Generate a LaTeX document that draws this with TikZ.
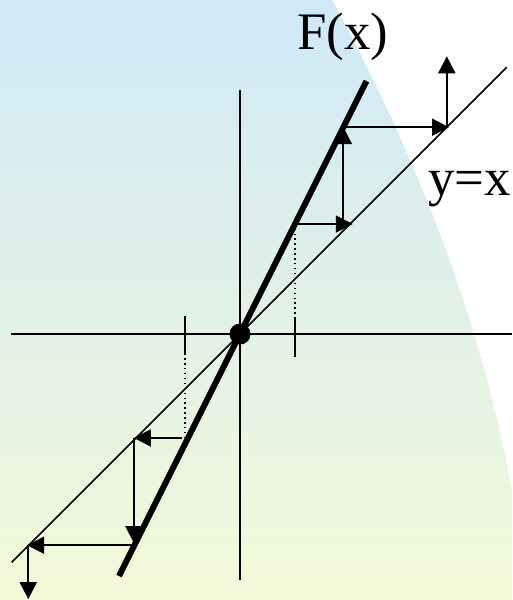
\documentclass[tikz,border=0pt]{standalone}
\usepackage{fontspec}
\setmainfont{Liberation Serif}
\usetikzlibrary{arrows.meta}
\definecolor{bgtop}{HTML}{CFE9F8}
\definecolor{bgmid}{HTML}{DFF2EA}
\definecolor{bgbot}{HTML}{F3F9D8}
\tikzset{
  axis/.style  ={line width=1.1pt, black},
  diag/.style  ={line width=0.9pt, black},
  fline/.style ={line width=3.4pt, black},
  ar/.style    ={-{Triangle[length=0.34cm,width=0.34cm]}, line width=1.1pt},
  guide/.style ={dotted, line width=0.8pt},
  tickmark/.style={line width=1.1pt},
  lbl/.style   ={font=\fontsize{30}{36}\selectfont, inner sep=0pt, anchor=base west}
}
\begin{document}
\begin{tikzpicture}[x=1.1cm,y=1.1cm]
% background
\useasboundingbox (-4.364,-4.836) rectangle (4.945,6.073);
\shade[top color=bgtop, middle color=bgmid, bottom color=bgbot]
  (-4.364,-4.836) rectangle (4.945,6.073);
\fill[white] (1.673,6.073) .. controls (3.273,3.164) and (4.418,0.073) .. (4.945,-2.836)
  -- (4.945,6.073) -- cycle;

% axes
\coordinate (xl) at (-4.16,0);
\coordinate (xr) at (4.945,0);
\coordinate (yb) at (0,-4.47);
\coordinate (yt) at (0,4.44);
\draw[axis] (xl) -- (xr);
\draw[axis] (yb) -- (yt);
\coordinate (tra) at (1,0.28);
\coordinate (trb) at (1,-0.42);
\coordinate (tla) at (-1,0.33);
\coordinate (tlb) at (-1,-0.35);
\draw[tickmark] (tra) -- (trb);
\draw[tickmark] (tla) -- (tlb);

% y=x and F(x)
\coordinate (da) at (-4.15,-4.15);
\coordinate (db) at (4.85,4.85);
\coordinate (fa) at (-2.2,-4.4);
\coordinate (fb) at (2.3,4.6);
\draw[diag] (da) -- (db);
\draw[fline] (fa) -- (fb);
\node[circle, fill, inner sep=0pt, minimum size=0.42cm] (O) at (0,0) {};
\node[lbl] (Flbl) at (1.04,5.18) {F(x)};
\node[lbl] (dlbl) at (3.42,2.51) {y=x};

% iteration, right
\coordinate (r0) at (1,2);
\coordinate (r1) at (2.05,2);
\coordinate (r2) at (1.88,2);
\coordinate (r3) at (1.88,3.76);
\coordinate (r4) at (3.8,3.76);
\coordinate (r5) at (3.76,3.76);
\coordinate (r6) at (3.76,5.05);
\draw[guide] (tra) -- (r0);
\draw[ar] (r0) -- (r1);
\draw[ar] (r2) -- (r3);
\draw[ar] (r3) -- (r4);
\draw[ar] (r5) -- (r6);

% iteration, left
\coordinate (l0) at (-1.05,-1.89);
\coordinate (l1) at (-1.93,-1.89);
\coordinate (l2) at (-1.93,-3.8);
\coordinate (l3) at (-1.93,-3.84);
\coordinate (l4) at (-3.87,-3.84);
\coordinate (l5) at (-3.85,-3.84);
\coordinate (l6) at (-3.85,-4.82);
\draw[guide] (tlb) -- (-1,-1.89);
\draw[ar] (l0) -- (l1);
\draw[ar] (l1) -- (l2);
\draw[ar] (l3) -- (l4);
\draw[ar] (l5) -- (l6);
\end{tikzpicture}
\end{document}
